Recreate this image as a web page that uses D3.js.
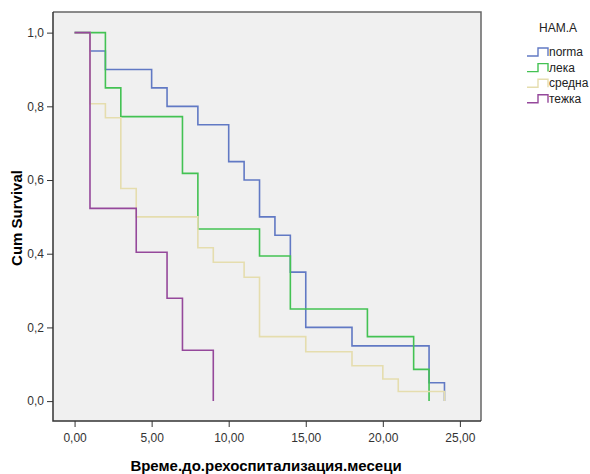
<!DOCTYPE html>
<html>
<head>
<meta charset="utf-8">
<script src="https://cdn.jsdelivr.net/npm/d3@7"></script>
<style>
  body { margin: 0; background: #fff; }
  svg { display: block; font-family: "Liberation Sans", Arial, sans-serif; }
</style>
</head>
<body>
<svg id="chart" width="590" height="474"></svg>
<script>
// Kaplan-Meier steps
const groups = ["norma", "лека", "средна", "тежка"];
const colors = ["#6179c4", "#43c253", "#e5ddae", "#95489b"];

const normaT = [0, 1, 2, 5, 6, 8, 10, 11, 12, 13, 14, 15, 18, 23, 24];
const normaS = [1, 0.95, 0.90, 0.85, 0.80, 0.75, 0.65, 0.60, 0.50, 0.45, 0.35, 0.20, 0.15, 0.05, 0];

const lekaT = [0, 2, 3, 7, 8, 12, 14, 19, 22, 23];
const lekaS = [1, 0.85, 0.772, 0.618, 0.467, 0.394, 0.25, 0.175, 0.086, 0];

const srednaT = [0, 1, 2, 3, 4, 8, 9, 11, 12, 15, 18, 20, 21, 24];
const srednaS = [1, 0.807, 0.769, 0.577, 0.50, 0.416, 0.377, 0.336, 0.175, 0.134, 0.096, 0.06, 0.026, 0];

const tezhkaT = [0, 1, 4, 6, 7, 9];
const tezhkaS = [1, 0.523, 0.404, 0.279, 0.138, 0];

const xTicks = [0, 5, 10, 15, 20, 25];
const yTicks = [0, 0.2, 0.4, 0.6, 0.8, 1.0];

const series = [
  [normaT, normaS], [lekaT, lekaS], [srednaT, srednaS], [tezhkaT, tezhkaS]
].map((p, i) => ({
  name: groups[i],
  color: colors[i],
  pts: p[0].map((t, j) => ({ t: t, s: p[1][j] }))
}));

// plot frame
var margin = { top: 12, right: 109, bottom: 53, left: 53 };
var width = 590 - margin.left - margin.right,
    height = 474 - margin.top - margin.bottom;

var svg = d3.select("#chart");
var g = svg.append("g")
    .attr("transform", "translate(" + margin.left + "," + margin.top + ")");

var x = d3.scaleLinear().domain([-1.4, 26.37]).range([0, width]);
var y = d3.scaleLinear().domain([-0.054, 1.056]).range([height, 0]);

g.append("rect")
    .attr("width", width)
    .attr("height", height)
    .attr("fill", "#f0f0f0");

// x axis
var xAxis = g.append("g")
    .attr("transform", "translate(0," + height + ")")
    .call(d3.axisBottom(x).tickValues(xTicks).tickSize(6).tickPadding(6)
        .tickFormat(d => d3.format(".2f")(d).replace(".", ",")));

// y axis
var yAxis = g.append("g")
    .call(d3.axisLeft(y).tickValues(yTicks).tickSize(6).tickPadding(3)
        .tickFormat(d => d3.format(".1f")(d).replace(".", ",")));

[xAxis, yAxis].forEach(a => {
  a.select(".domain").remove();
  a.selectAll("line").attr("stroke", "#333");
  a.selectAll("text").attr("fill", "#333").style("font-size", "12px");
});

// frame
g.append("path")
    .attr("d", "M0,0 H" + width + " V" + height)
    .attr("fill", "none").attr("stroke", "#666").attr("stroke-width", 1.5);
g.append("path")
    .attr("d", "M0,0 V" + height + " H" + width)
    .attr("fill", "none").attr("stroke", "#333").attr("stroke-width", 1.5);

// survival steps
var line = d3.line()
    .x(d => x(d.t))
    .y(d => y(d.s))
    .curve(d3.curveStepAfter);

g.selectAll(".km")
    .data(series)
    .enter()
    .append("path")
      .attr("class", "km")
      .attr("d", d => line(d.pts))
      .attr("fill", "none")
      .attr("stroke", d => d.color)
      .attr("stroke-width", 1.6);

// axis titles
svg.append("text")
    .attr("x", 266)
    .attr("y", 471)
    .attr("text-anchor", "middle")
    .style("font-size", "15px")
    .style("font-weight", "bold")
    .text("Време.до.рехоспитализация.месеци");

svg.append("text")
    .attr("transform", "translate(22,218) rotate(-90)")
    .attr("text-anchor", "middle")
    .style("font-size", "15px")
    .style("font-weight", "bold")
    .text("Cum Survival");

// legend
var legend = svg.append("g");
legend.append("text")
    .attr("x", 558)
    .attr("y", 32)
    .attr("text-anchor", "middle")
    .style("font-size", "12px")
    .attr("fill", "#222")
    .text("НАМ.А");

var item = legend.selectAll(".item")
    .data(series)
    .enter()
    .append("g")
      .attr("class", "item")
      .attr("transform", (d, i) => "translate(527," + (52 + i * 15.6) + ")");

item.append("path")
    .attr("d", "M0,4 H11 V-4 H21 V4")
    .attr("fill", "none")
    .attr("stroke", d => d.color)
    .attr("stroke-width", 1.4);

item.append("text")
    .attr("x", 22)
    .attr("y", 4)
    .style("font-size", "12px")
    .attr("fill", "#222")
    .text(d => d.name);
</script>
</body>
</html>
